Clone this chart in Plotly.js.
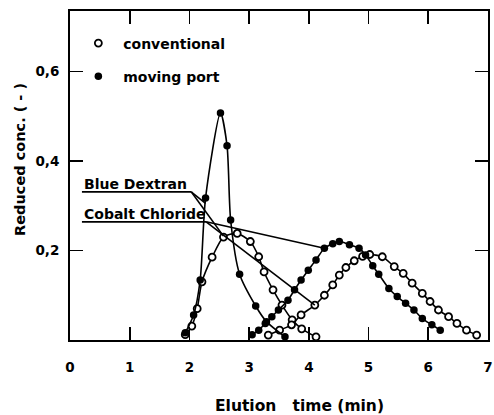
<!DOCTYPE html>
<html>
<head>
<meta charset="utf-8">
<script src="https://cdn.plot.ly/plotly-3.0.1.min.js"></script>
<style>
  html, body { margin: 0; padding: 0; background: #fff; }
  #chart { width: 494px; height: 415px; }
</style>
</head>
<body>
<div id="chart"></div>
<script>
// Elution profiles, reduced concentration vs. elution time (min)
const bdMovingX = [1.93, 2.07, 2.18, 2.27, 2.52, 2.63, 2.69, 2.84, 3.11, 3.29, 3.60];
const bdMovingY = [0.016, 0.056, 0.134, 0.317, 0.507, 0.434, 0.268, 0.147, 0.076, 0.041, 0.007];

const bdConvX = [1.93, 2.04, 2.13, 2.21, 2.38, 2.57, 2.80, 3.02, 3.16, 3.25, 3.40, 3.55, 3.72, 3.88, 4.12];
const bdConvY = [0.012, 0.031, 0.07, 0.13, 0.185, 0.230, 0.238, 0.22, 0.186, 0.152, 0.112, 0.078, 0.045, 0.025, 0.007];

const coMovingX = [3.05, 3.16, 3.27, 3.38, 3.49, 3.65, 3.76, 3.87, 3.99, 4.12, 4.26, 4.40, 4.51, 4.68, 4.84, 4.95, 5.07, 5.17, 5.34, 5.48, 5.62, 5.76, 5.90, 6.06, 6.20];
const coMovingY = [0.012, 0.022, 0.037, 0.052, 0.067, 0.089, 0.112, 0.134, 0.156, 0.179, 0.205, 0.215, 0.22, 0.213, 0.205, 0.19, 0.166, 0.147, 0.115, 0.097, 0.082, 0.067, 0.048, 0.034, 0.022];

const coConvX = [3.32, 3.51, 3.71, 3.87, 4.10, 4.26, 4.40, 4.51, 4.62, 4.76, 4.90, 5.02, 5.23, 5.43, 5.58, 5.73, 5.90, 6.03, 6.17, 6.34, 6.48, 6.64, 6.81];
const coConvY = [0.011, 0.022, 0.034, 0.056, 0.078, 0.10, 0.123, 0.145, 0.162, 0.177, 0.187, 0.191, 0.186, 0.164, 0.149, 0.127, 0.104, 0.086, 0.067, 0.052, 0.037, 0.022, 0.011];

const xTicks = [0, 1, 2, 3, 4, 5, 6, 7];
const yTicks = [0.2, 0.4, 0.6];
const yTickText = ['0,2', '0,4', '0,6'];

const FONT = 'DejaVu Sans, sans-serif';
const INK = '#000';

const lineStyle = { color: INK, width: 1.6, shape: 'spline', smoothing: 0.7 };
const openMarker = { symbol: 'circle', size: 7, color: '#fff', line: { color: INK, width: 1.8 } };
const filledMarker = { symbol: 'circle', size: 7.5, color: INK, line: { color: INK, width: 0 } };

function curve(x, y, marker) {
  return { x, y, type: 'scatter', mode: 'lines+markers', line: lineStyle, marker, showlegend: false, hoverinfo: 'skip', cliponaxis: false };
}

const traces = [
  curve(bdConvX, bdConvY, openMarker),
  curve(coConvX, coConvY, openMarker),
  curve(bdMovingX, bdMovingY, filledMarker),
  curve(coMovingX, coMovingY, filledMarker),
  // legend keys
  { x: [null], y: [null], type: 'scatter', mode: 'markers', marker: openMarker, name: '&#160;conventional', legendgroup: 'a' },
  { x: [null], y: [null], type: 'scatter', mode: 'markers', marker: filledMarker, name: '&#160;moving port', legendgroup: 'b' }
];

// label leader lines (data coordinates)
function seg(x0, y0, x1, y1) {
  return { type: 'line', xref: 'x', yref: 'y', x0, y0, x1, y1, line: { color: INK, width: 1.6 } };
}
const shapes = [
  seg(0.2, 0.331, 2.03, 0.331),
  seg(2.03, 0.331, 2.27, 0.305),
  seg(2.03, 0.331, 2.57, 0.232),
  seg(0.2, 0.264, 2.28, 0.264),
  seg(2.28, 0.264, 4.26, 0.205),
  seg(2.28, 0.264, 4.10, 0.078)
];

const labelFont = { family: FONT, size: 14, color: INK, weight: 'bold' };

const annotations = [
  { text: 'Blue Dextran', xref: 'x', yref: 'y', x: 0.2, y: 0.331, xanchor: 'left', yanchor: 'bottom', showarrow: false, yshift: -2,
    font: labelFont },
  { text: 'Cobalt Chloride', xref: 'x', yref: 'y', x: 0.2, y: 0.264, xanchor: 'left', yanchor: 'bottom', showarrow: false, yshift: -2,
    font: labelFont },
  { text: 'Reduced conc. ( - )', xref: 'paper', yref: 'paper', x: -0.12, y: 0.55, xanchor: 'center', yanchor: 'middle',
    textangle: -90, showarrow: false, font: { family: FONT, size: 14.5, color: INK, weight: 'bold' } },
  { text: 'Elution&#160;&#160;&#160;time (min)', xref: 'paper', yref: 'paper', x: 0.55, y: -0.2, xanchor: 'center', yanchor: 'middle',
    showarrow: false, font: { family: FONT, size: 15.5, color: INK, weight: 'bold' } }
];

const axisCommon = {
  showline: true, linecolor: INK, linewidth: 2, mirror: 'ticks',
  ticks: 'inside', ticklen: 13, tickwidth: 1.8, tickcolor: INK,
  showgrid: false, zeroline: false, ticklabeloverflow: 'allow',
  tickfont: { family: FONT, size: 13.5, color: INK, weight: 'bold' }
};

const layout = {
  width: 494, height: 415,
  margin: { l: 70, r: 6, t: 11, b: 75 },
  paper_bgcolor: '#fff', plot_bgcolor: '#fff',
  xaxis: Object.assign({}, axisCommon, { range: [0, 7], tickvals: xTicks, ticklabelstandoff: 14 }),
  yaxis: Object.assign({}, axisCommon, { range: [0, 0.735], tickvals: yTicks, ticktext: yTickText, ticklabelstandoff: 6 }),
  legend: { x: 0.02, y: 0.95, xanchor: 'left', yanchor: 'top', bgcolor: 'rgba(0,0,0,0)', tracegroupgap: 12,
    font: { family: FONT, size: 14, color: INK, weight: 'bold' } },
  shapes, annotations
};

Plotly.newPlot('chart', traces, layout, { staticPlot: true, displayModeBar: false });
</script>
</body>
</html>
